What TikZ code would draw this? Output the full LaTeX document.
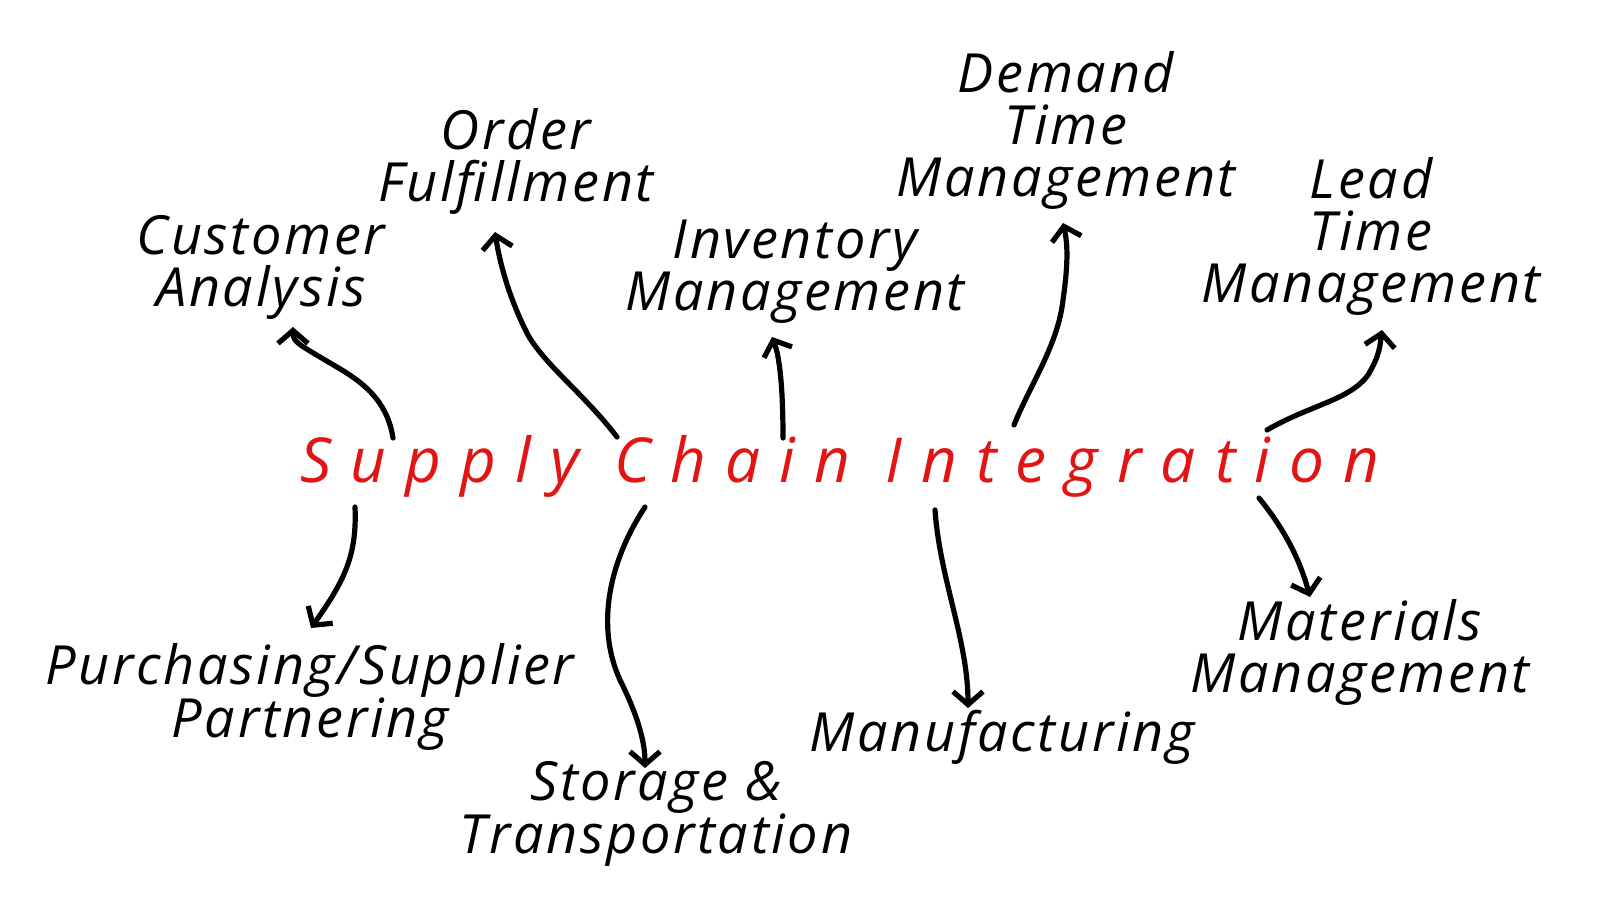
\documentclass[tikz,border=0pt]{standalone}
\usepackage{fontspec}
\setmainfont{Open Sans}
\newfontfamily\titlefont[LetterSpace=31]{Open Sans}
\newfontfamily\labelfont[LetterSpace=5]{Open Sans}
\usetikzlibrary{arrows.meta}
\definecolor{titlered}{RGB}{226,20,20}
\tikzset{
  lbl/.style={font=\labelfont\fontsize{54}{52}\selectfont\itshape, align=center, inner sep=0pt, text=black},
  ttl/.style={font=\titlefont\fontsize{62}{66}\selectfont\itshape, inner sep=0pt, text=titlered},
  arr/.style={line width=5.2pt, line cap=round, line join=round,
    -{Straight Barb[length=13pt,width=30pt,line width=5.2pt]}}
}
\begin{document}
\begin{tikzpicture}[x=1pt,y=-1pt]
\useasboundingbox (0,0) rectangle (1600,900);
\fill[white] (0,0) rectangle (1600,900);

% title
\node[ttl] (title) at (840,466) {Supply Chain Integration};

% labels
\node[lbl] (ca) at (261,267) {Customer\\Analysis};
\node[lbl] (of) at (516,161) {Order\\Fulfillment};
\node[lbl] (im) at (795,272) {Inventory\\Management};
\node[lbl] (dt) at (1066,130) {Demand\\Time\\Management};
\node[lbl] (lt) at (1371,236) {Lead\\Time\\Management};
\node[lbl] (ps) at (310,697) {Purchasing/Supplier\\Partnering};
\node[lbl] (st) at (656,814) {Storage \&\\Transportation};
\node[lbl] (mf) at (1002,737) {Manufacturing};
\node[lbl] (mm) at (1360,652) {Materials\\Management};

% arrow ends
\coordinate (s-ca) at (393,438);  \coordinate (e-ca) at (293,327);
\coordinate (s-of) at (617,437);  \coordinate (e-of) at (495,232);
\coordinate (s-im) at (783,438);  \coordinate (e-im) at (772,337);
\coordinate (s-dt) at (1014,425); \coordinate (e-dt) at (1063,223);
\coordinate (s-lt) at (1267,430); \coordinate (e-lt) at (1382,330);
\coordinate (s-ps) at (355,507);  \coordinate (e-ps) at (311,628);
\coordinate (s-st) at (645,507);  \coordinate (e-st) at (645,768);
\coordinate (s-mf) at (935,510);  \coordinate (e-mf) at (968,708);
\coordinate (s-mm) at (1259,498); \coordinate (e-mm) at (1310,597);

\draw[arr] (s-ca) .. controls (386,392) and (350,375) .. (325,360)
                  .. controls (300,345) and (293,342) .. (e-ca);
\draw[arr] (s-of) .. controls (585,395) and (545,365) .. (528,335)
                  .. controls (510,300) and (500,265) .. (e-of);
\draw[arr] (s-im) .. controls (783,400) and (781,360) .. (e-im);
\draw[arr] (s-dt) .. controls (1030,385) and (1058,345) .. (1063,300)
                  .. controls (1068,265) and (1068,245) .. (e-dt);
\draw[arr] (s-lt) .. controls (1310,405) and (1350,400) .. (1368,375)
                  .. controls (1380,355) and (1380,345) .. (e-lt);
\draw[arr] (s-ps) .. controls (357,555) and (345,580) .. (e-ps);
\draw[arr] (s-st) .. controls (610,560) and (595,625) .. (620,680)
                  .. controls (640,720) and (645,745) .. (e-st);
\draw[arr] (s-mf) .. controls (940,580) and (968,640) .. (e-mf);
\draw[arr] (s-mm) .. controls (1285,530) and (1300,560) .. (e-mm);
\end{tikzpicture}
\end{document}
